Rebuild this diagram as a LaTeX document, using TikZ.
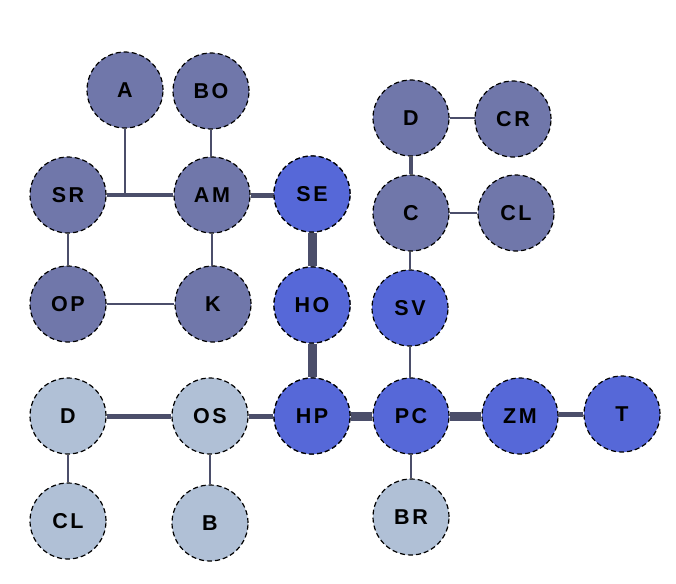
\documentclass[tikz,border=0pt]{standalone}
\usepackage{fontspec}
\setmainfont{Liberation Sans}[LetterSpace=12]
\usetikzlibrary{backgrounds}
\definecolor{cdark}{RGB}{112,119,170}
\definecolor{cblue}{RGB}{86,104,216}
\definecolor{clight}{RGB}{176,192,214}
\definecolor{cedge}{RGB}{75,78,106}
\begin{document}
\begin{tikzpicture}[x=1pt,y=-1pt,
  nd/.style={circle,minimum size=76pt,inner sep=0pt,font=\fontsize{21.5}{21.5}\selectfont\bfseries,
    preaction={draw=white,line width=1.4pt},draw=black,line width=1.2pt,dash pattern=on 5pt off 3pt},
  dk/.style={nd,fill=cdark},
  bl/.style={nd,fill=cblue},
  blc/.style={nd,fill=cblue,preaction={draw=black!70!cblue,line width=1.4pt},draw=black},
  lt/.style={nd,fill=clight},
  e1/.style={draw=cedge,line width=2pt},
  e2/.style={draw=cedge,line width=3.5pt},
  e3/.style={draw=cedge,line width=5pt},
  e4/.style={draw=cedge,line width=9pt}]
\useasboundingbox (0,0) rectangle (676,583);
% nodes
\node[dk] (A) at (125,90) {A};
\node[dk] (BO) at (211,91) {BO};
\node[dk] (SR) at (68,195) {SR};
\node[dk] (AM) at (212,195) {AM};
\node[blc] (SE) at (312,194) {SE};
\node[dk] (OP) at (68,304) {OP};
\node[dk] (K) at (213,304) {K};
\node[blc] (HO) at (312,305) {HO};
\node[dk] (D) at (411,118) {D};
\node[dk] (CR) at (513,119) {CR};
\node[dk] (C) at (411,213) {C};
\node[dk] (CL) at (516,213) {CL};
\node[bl] (SV) at (410,308) {SV};
\node[lt] (D2) at (68,416) {D};
\node[lt] (OS) at (210,416) {OS};
\node[blc] (HP) at (312,416) {HP};
\node[bl] (PC) at (411,416) {PC};
\node[bl] (ZM) at (520,416) {ZM};
\node[bl] (T) at (622,414) {T};
\node[lt] (CL2) at (68,521) {CL};
\node[lt] (B) at (210,523) {B};
\node[lt] (BR) at (411,517) {BR};
\coordinate (J) at (125,195);
% edges
\begin{scope}[on background layer]
\draw[e2] (SR) -- (AM);
\draw[e1] (A) -- (J);
\draw[e1] (BO) -- (BO |- AM);
\draw[e1] (AM) -- (AM |- K);
\draw[e1] (SR) -- (OP);
\draw[e1] (OP) -- (K);
\draw[e3] (AM) -- (AM -| SE);
\draw[e4] (SE) -- (HO);
\draw[e4] (HO) -- (HP);
\draw[e1] (D) -- (D -| CR);
\draw[e2] (D) -- (C);
\draw[e1] (C) -- (CL);
\draw[e1] (SV) -- (SV |- C);
\draw[e1] (SV) -- (SV |- PC);
\draw[e4] (HP) -- (PC);
\draw[e4] (PC) -- (ZM);
\draw[e3] (T) -- (T -| ZM);
\draw[e1] (PC) -- (BR);
\draw[e3] (D2) -- (OS);
\draw[e3] (OS) -- (HP);
\draw[e1] (D2) -- (CL2);
\draw[e1] (OS) -- (B);
\end{scope}
\end{tikzpicture}
\end{document}
